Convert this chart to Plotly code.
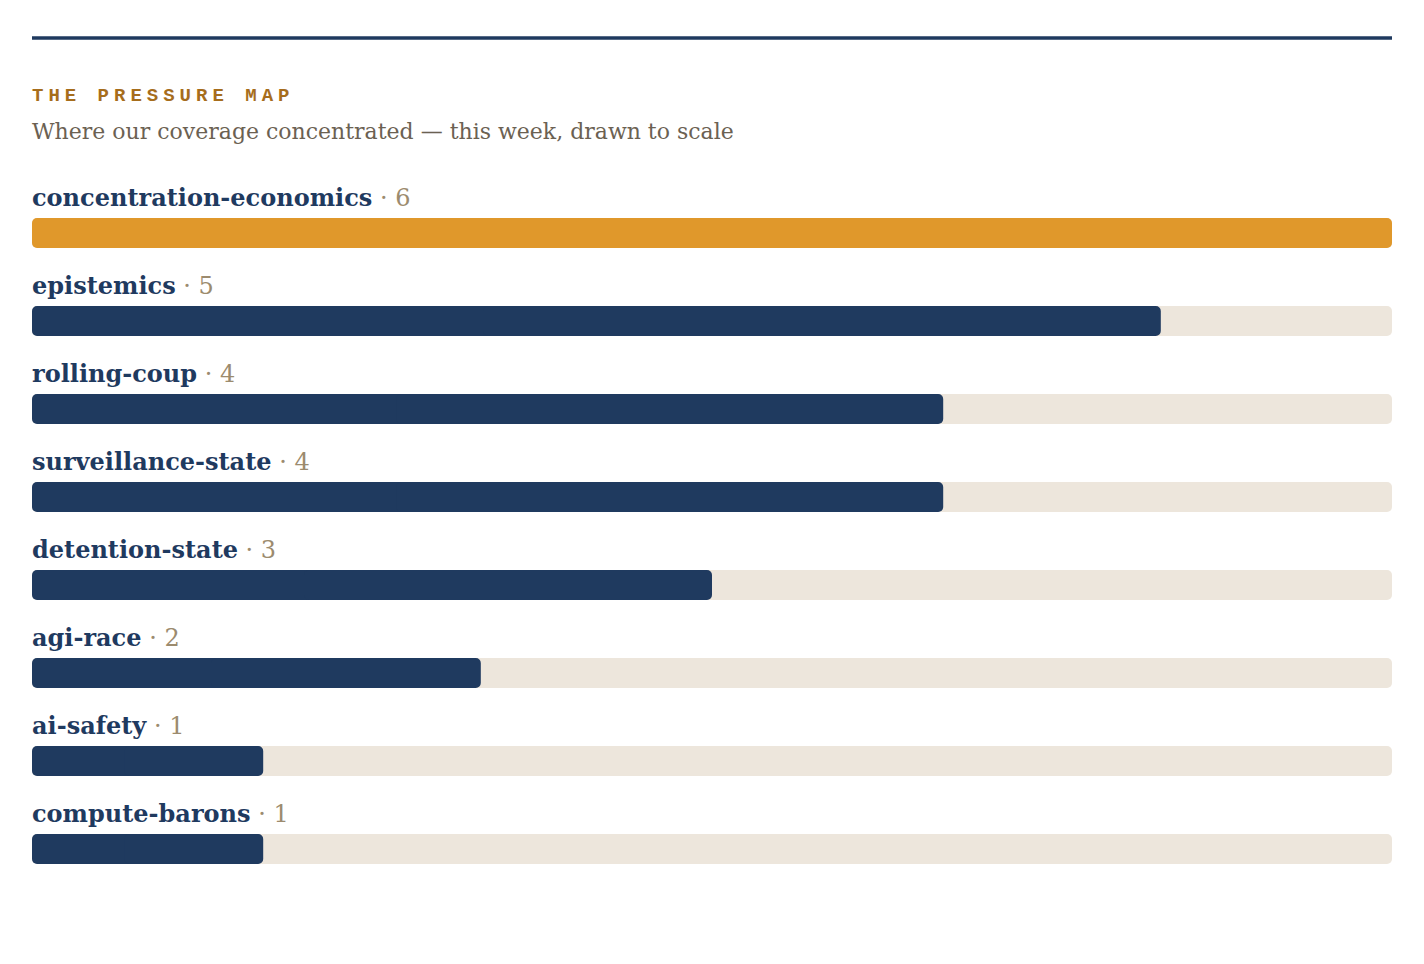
import plotly.graph_objects as go

topics = ["concentration-economics", "epistemics", "rolling-coup", "surveillance-state",
          "detention-state", "agi-race", "ai-safety", "compute-barons"]
counts = [6, 5, 4, 4, 3, 2, 1, 1]

title_text = "THE PRESSURE MAP"
subtitle_text = "Where our coverage concentrated \u2014 this week, drawn to scale"

NAVY = "#1f3a5f"
ORANGE = "#e0982b"
TRACK = "#ede6dc"
TITLE_C = "#a66d1c"
SUB_C = "#6b6152"
NUM_C = "#9c8b6e"

W, H = 1424, 964
ROW = 88
FIRST_CENTER = 233
BAR_PX = 30

mx = max(counts)
pct = [round(c / mx * 100) for c in counts]
full = [100] * len(topics)
ypos = list(range(len(topics)))
colors = [ORANGE if i == 0 else NAVY for i in ypos]


def rounded_bar(fig, lengths, color):
    # two overlapping halves so that both ends get rounded corners
    left_base = [v * 0.6 for v in lengths]
    right_base = [v * 0.4 for v in lengths]
    fig.add_trace(go.Bar(x=[-b for b in left_base], base=left_base, y=ypos, orientation="h",
                         marker=dict(color=color, line=dict(width=0)),
                         width=BAR_PX / ROW, hoverinfo="skip"))
    fig.add_trace(go.Bar(x=[v - b for v, b in zip(lengths, right_base)], base=right_base,
                         y=ypos, orientation="h",
                         marker=dict(color=color, line=dict(width=0)),
                         width=BAR_PX / ROW, hoverinfo="skip"))


fig = go.Figure()
rounded_bar(fig, full, TRACK)
rounded_bar(fig, pct, colors)

serif = "Georgia, 'DejaVu Serif', serif"
for i, (t, c) in enumerate(zip(topics, counts)):
    fig.add_annotation(
        x=0, y=i, xref="x", yref="y", xanchor="left", yanchor="bottom",
        yshift=BAR_PX / 2 + 4, xshift=-2, showarrow=False, align="left",
        text=f"<b>{t}</b><span style='color:{NUM_C};font-weight:normal'> \u00b7 {c}</span>",
        font=dict(family=serif, size=24, color=NAVY),
    )

fig.add_annotation(x=0, y=1 - 96 / H, xref="paper", yref="paper", xanchor="left",
                   yanchor="middle", showarrow=False, xshift=-2,
                   text=f"<b><span style='letter-spacing:5px'>{title_text}</span></b>",
                   font=dict(family="'Liberation Mono', 'Courier New', monospace", size=19, color=TITLE_C))
fig.add_annotation(x=0, y=1 - 132 / H, xref="paper", yref="paper", xanchor="left",
                   yanchor="middle", showarrow=False, xshift=-2,
                   text=subtitle_text,
                   font=dict(family=serif, size=22, color=SUB_C))

fig.add_shape(type="line", xref="paper", yref="paper", x0=0, x1=1,
              y0=1 - 38 / H, y1=1 - 38 / H, line=dict(color=NAVY, width=3.5))

y_top = -FIRST_CENTER / ROW
y_bot = (H - FIRST_CENTER) / ROW
fig.update_layout(
    width=W, height=H, margin=dict(l=32, r=32, t=0, b=0),
    paper_bgcolor="white", plot_bgcolor="white",
    barmode="overlay", barcornerradius=5, showlegend=False,
    xaxis=dict(range=[0, 100], visible=False, fixedrange=True),
    yaxis=dict(range=[y_bot, y_top], visible=False, fixedrange=True),
)
fig.write_html("out.html")
